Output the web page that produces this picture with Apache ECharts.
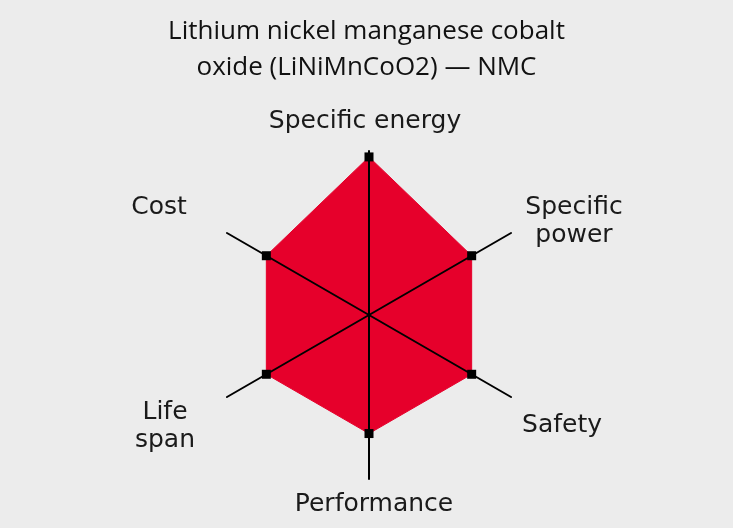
<!DOCTYPE html>
<html>
<head>
<meta charset="utf-8">
<script src="https://cdn.jsdelivr.net/npm/echarts@6/dist/echarts.min.js"></script>
<style>
html,body{margin:0;padding:0;background:#ececec;}
#chart{width:733px;height:528px;}
</style>
</head>
<body>
<div id="chart"></div>
<script>
// Data
var indicators = ['Specific energy', 'Cost', 'Life\nspan', 'Performance', 'Safety', 'Specific\npower'];
var values = [4, 3, 3, 3, 3, 3];
var maxValue = 4.15;
var titleText = 'Lithium nickel manganese cobalt\noxide (LiNiMnCoO2) \u2014 NMC';

// Layout (label centres in pixels)
var labelPos = [[365, 121], [159, 207], [165, 426], [374, 504], [562, 425], [574, 221]];

var chart = echarts.init(document.getElementById('chart'), null, {renderer: 'canvas'});
var labelFont = '"DejaVu Sans", sans-serif';

var graphics = indicators.map(function (name, i) {
  return {
    type: 'text',
    x: labelPos[i][0],
    y: labelPos[i][1],
    style: {
      text: name,
      fill: '#1a1a1a',
      font: '25px ' + labelFont,
      lineHeight: 28,
      align: 'center',
      verticalAlign: 'middle'
    }
  };
});

chart.setOption({
  backgroundColor: '#ececec',
  title: {
    text: titleText,
    left: 'center',
    top: 9,
    textStyle: {
      fontFamily: '"Open Sans", "Noto Sans", sans-serif',
      fontSize: 26,
      fontWeight: 'normal',
      color: '#111',
      lineHeight: 36
    }
  },
  radar: {
    z: 5,
    center: [369, 315],
    radius: 164,
    startAngle: 90,
    shape: 'polygon',
    splitNumber: 1,
    indicator: indicators.map(function (n) { return {name: n, max: maxValue, min: 0}; }),
    axisName: {show: false},
    axisLine: {show: true, lineStyle: {color: '#000', width: 2}},
    splitLine: {show: false},
    splitArea: {show: false}
  },
  series: [{
    type: 'radar',
    z: 2,
    symbol: 'rect',
    symbolSize: 9,
    itemStyle: {color: '#000'},
    lineStyle: {color: '#e6002b', width: 1},
    areaStyle: {color: '#e6002b', opacity: 1},
    data: [{value: values}]
  }],
  graphic: graphics
});
</script>
</body>
</html>
